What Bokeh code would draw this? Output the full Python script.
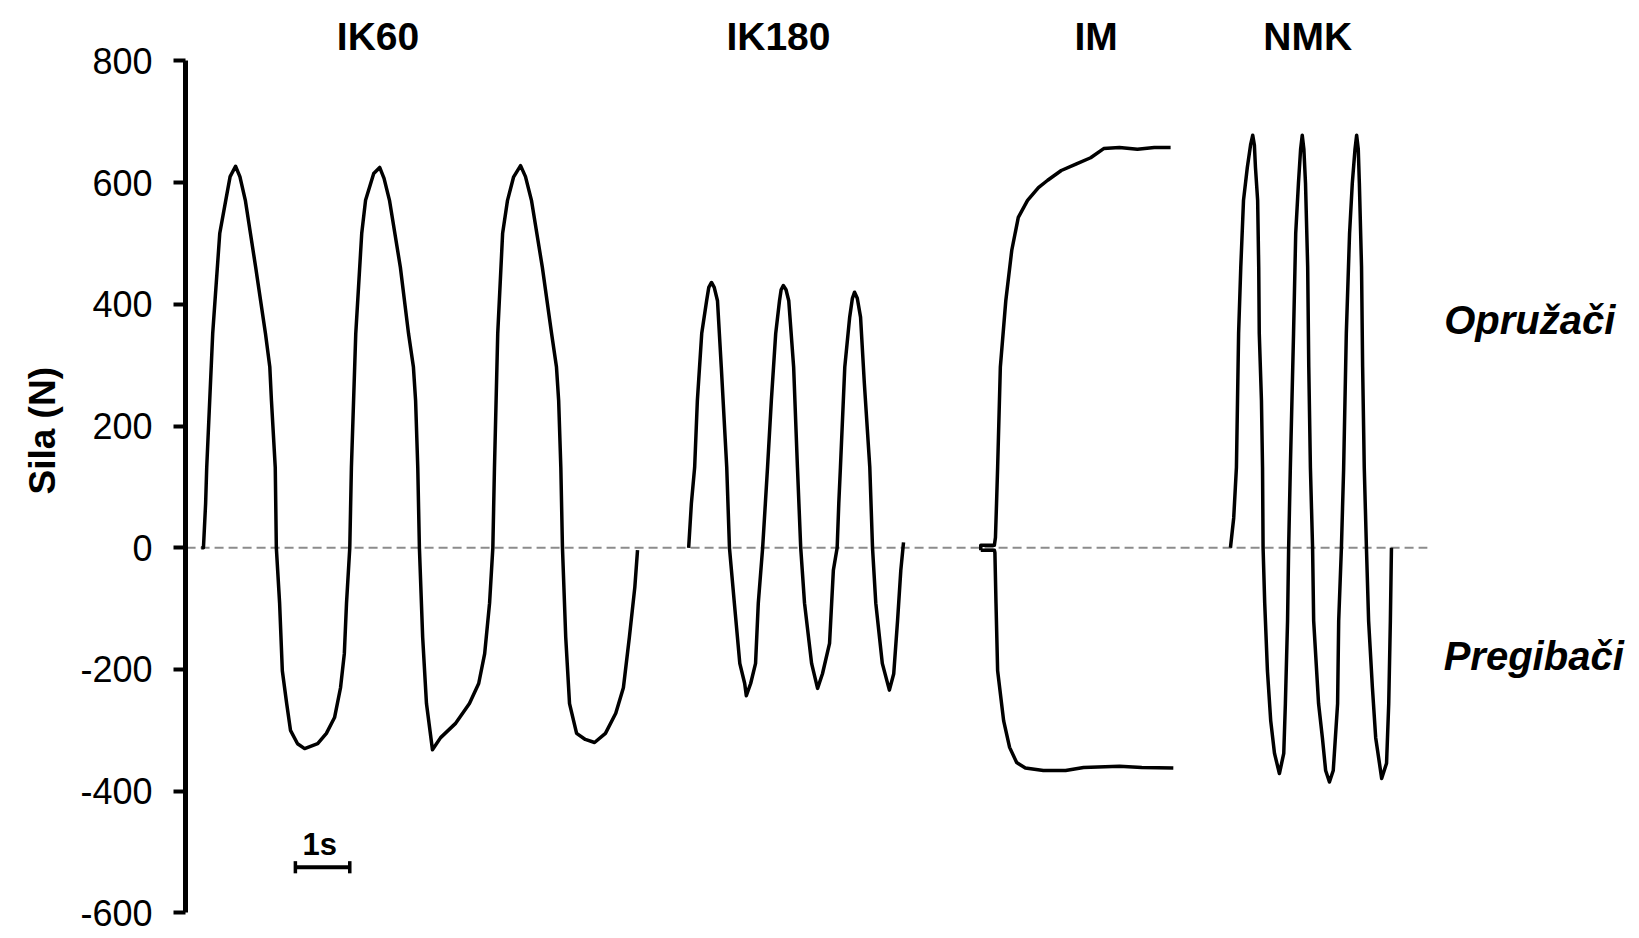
from bokeh.plotting import figure
from bokeh.models import FixedTicker, Label, Range1d, Title
from bokeh.embed import file_html
from bokeh.resources import INLINE

# ---------------- data (time in s, force in N) ----------------
ik60_t = [0.27, 0.31, 0.35, 0.37, 0.48, 0.61, 0.72, 0.80, 0.90, 0.98, 1.08, 1.27, 1.45, 1.53, 1.56,
          1.63, 1.65, 1.71, 1.76, 1.84, 1.91, 2.04, 2.17, 2.41, 2.57, 2.72, 2.83, 2.90, 2.94,
          3.00, 3.03, 3.11, 3.22, 3.29, 3.44, 3.55, 3.63, 3.73, 3.93, 4.08, 4.17, 4.21, 4.25, 4.28,
          4.34, 4.41, 4.52, 4.67, 4.94, 5.20, 5.37, 5.48, 5.57, 5.63, 5.66, 5.72, 5.81, 5.90,
          6.01, 6.14, 6.23, 6.34, 6.54, 6.71, 6.80, 6.84, 6.88, 6.91, 6.97, 7.04, 7.17, 7.33, 7.50,
          7.70, 7.89, 8.03, 8.14, 8.24, 8.29]
ik60_f = [0, 0, 73, 132, 352, 517, 571, 610, 627, 610, 571, 461, 352, 297, 242,
          132, 0, -91, -202, -256, -300, -322, -330, -322, -305, -279, -230, -174, -91,
          0, 132, 352, 517, 571, 615, 625, 607, 571, 461, 352, 297, 242, 132, 0,
          -147, -256, -332, -312, -289, -256, -223, -174, -91, 0, 132, 352, 517, 571,
          609, 628, 610, 571, 461, 352, 297, 242, 132, 0, -147, -256, -305, -315, -320,
          -305, -272, -230, -147, -65, -4]

ik180_t = [9.23, 9.28, 9.34, 9.39, 9.47, 9.56, 9.60, 9.65, 9.70, 9.76, 9.83, 9.93, 9.98, 10.07,
           10.17, 10.26, 10.29, 10.37, 10.46, 10.51, 10.59, 10.64, 10.68, 10.75, 10.83, 10.90,
           10.93, 10.97, 11.02, 11.07, 11.16, 11.23, 11.29, 11.36, 11.49, 11.60, 11.69, 11.82,
           11.89, 11.96, 11.99, 12.02, 12.10, 12.19, 12.24, 12.28, 12.33, 12.39, 12.46, 12.56,
           12.61, 12.67, 12.79, 12.92, 13.00, 13.07, 13.13, 13.18]
ik180_f = [0, 73, 132, 242, 352, 406, 428, 436, 428, 406, 297, 132, 0, -91,
           -190, -223, -243, -223, -190, -91, 0, 73, 132, 242, 352, 406,
           424, 431, 424, 406, 297, 132, 0, -91, -190, -231, -207, -157,
           -37, 0, 73, 132, 297, 379, 410, 420, 410, 379, 270, 132,
           0, -91, -190, -234, -207, -120, -37, 9]

im_ext_t = [14.60, 14.60, 14.85, 14.87, 14.89, 14.91, 14.96, 15.06, 15.17, 15.29, 15.46,
            15.66, 15.83, 16.08, 16.36, 16.62, 16.86, 17.15, 17.48, 17.79, 18.09]
im_ext_f = [-4, 4, 4, 17, 73, 132, 297, 406, 489, 543, 571,
            592, 604, 620, 631, 641, 656, 658, 655, 658, 658]

im_flex_t = [14.60, 14.85, 14.86, 14.88, 14.91, 15.02, 15.13, 15.26, 15.42, 15.75, 16.16,
             16.49, 17.15, 17.56, 18.14]
im_flex_f = [-4, -4, -8, -91, -202, -284, -328, -353, -362, -366, -366,
             -361, -359, -361, -362]

nmk_t = [19.19, 19.25, 19.28, 19.30, 19.32, 19.34, 19.38, 19.43, 19.50, 19.56, 19.60, 19.63,
         19.65, 19.69, 19.71, 19.72, 19.76, 19.78, 19.79, 19.82, 19.87, 19.93, 20.00, 20.09,
         20.17, 20.20, 20.24, 20.26, 20.29, 20.35, 20.39, 20.44, 20.48, 20.51, 20.54, 20.57,
         20.61, 20.63, 20.66, 20.70, 20.72, 20.81, 20.88, 20.94, 21.01, 21.08, 21.16, 21.18,
         21.23, 21.27, 21.32, 21.38, 21.43, 21.48, 21.51, 21.54, 21.56, 21.60, 21.62, 21.65,
         21.69, 21.73, 21.80, 21.86, 21.97, 22.06, 22.10, 22.13, 22.15]
nmk_f = [0, 49, 99, 132, 242, 352, 461, 571, 625, 662, 678, 662,
         625, 571, 461, 352, 242, 132, 0, -91, -202, -284, -338, -371,
         -338, -256, -120, 0, 127, 352, 517, 599, 655, 678, 655, 599,
         461, 297, 132, 0, -120, -256, -312, -366, -385, -366, -256, -120,
         0, 127, 352, 517, 599, 655, 678, 655, 599, 461, 297, 132,
         0, -120, -230, -312, -379, -354, -256, -120, 0]

y_ticks = [-600, -400, -200, 0, 200, 400, 600, 800]
y_tick_labels = ["-600", "-400", "-200", "0", "200", "400", "600", "800"]
y_label = "Sila (N)"
test_names = ["IK60", "IK180", "IM", "NMK"]
side_names = ["Opružači", "Pregibači"]
scale_label = "1s"
scale_len = [0.0, 1.0]

# ---------------- layout / style ----------------
FONT = "Liberation Sans"
title_x = [3.52, 10.88, 16.72, 20.61]
title_y = 839.5
side_x = [23.12, 23.11]
side_y = [375, -178]
zero_end = 22.81
bar_x0 = 2.0
bar_y = -525

p = figure(width=1639, height=938, output_backend="svg", toolbar_location=None,
           x_range=Range1d(-0.02, 26.71), y_range=Range1d(-642.1, 899.4),
           x_axis_location=None,
           min_border_left=185, min_border_right=0, min_border_top=0, min_border_bottom=0)
p.grid.visible = False
p.outline_line_color = None
p.background_fill_color = "white"
p.border_fill_color = "white"

ax = p.yaxis[0]
ax.ticker = FixedTicker(ticks=y_ticks)
ax.major_label_overrides = {t: l for t, l in zip(y_ticks, y_tick_labels)}
ax.bounds = (min(y_ticks), max(y_ticks))
ax.axis_line_width = 5
ax.axis_line_color = "black"
ax.major_tick_line_width = 4
ax.major_tick_line_color = "black"
ax.major_tick_out = 12
ax.major_tick_in = 0
ax.minor_tick_out = 0
ax.minor_tick_in = 0
ax.major_label_standoff = 21
ax.major_label_text_font = FONT
ax.major_label_text_font_size = "36px"
ax.major_label_text_color = "black"

# y-axis title (as a left-side title so it can sit outside the frame)
p.add_layout(Title(text=y_label, align="left", offset=444, vertical_align="middle",
                   standoff=28, text_font=FONT, text_font_size="37px",
                   text_font_style="bold", text_color="black"), "left")

# zero reference line
p.segment(x0=[0], y0=[0], x1=[zero_end], y1=[0], line_color="#8c8c8c",
          line_width=2, line_dash="9 5")

# traces
for xs, ys in [(ik60_t, ik60_f), (ik180_t, ik180_f), (im_ext_t, im_ext_f),
               (im_flex_t, im_flex_f), (nmk_t, nmk_f)]:
    p.line(xs, ys, line_color="black", line_width=3.5, line_join="round")

# 1 s scale bar
bx = [bar_x0 + v for v in scale_len]
p.line(bx, [bar_y, bar_y], line_color="black", line_width=4)
p.segment(x0=bx, y0=[bar_y - 10, bar_y - 10], x1=bx, y1=[bar_y + 10, bar_y + 10],
          line_color="black", line_width=3.5)
p.add_layout(Label(x=bar_x0 + 0.45, y=bar_y + 37, text=scale_label, text_align="center",
                   text_baseline="middle", text_font=FONT, text_font_size="31px",
                   text_font_style="bold", text_color="black"))

# titles
for name, tx in zip(test_names, title_x):
    p.add_layout(Label(x=tx, y=title_y, text=name, text_align="center",
                       text_baseline="middle", text_font=FONT, text_font_size="39px",
                       text_font_style="bold", text_color="black"))

for name, sx, sy in zip(side_names, side_x, side_y):
    p.add_layout(Label(x=sx, y=sy, text=name, text_align="left",
                       text_baseline="middle", text_font=FONT, text_font_size="40px",
                       text_font_style="bold italic", text_color="black"))

open("out.html", "w").write(file_html(p, INLINE))
